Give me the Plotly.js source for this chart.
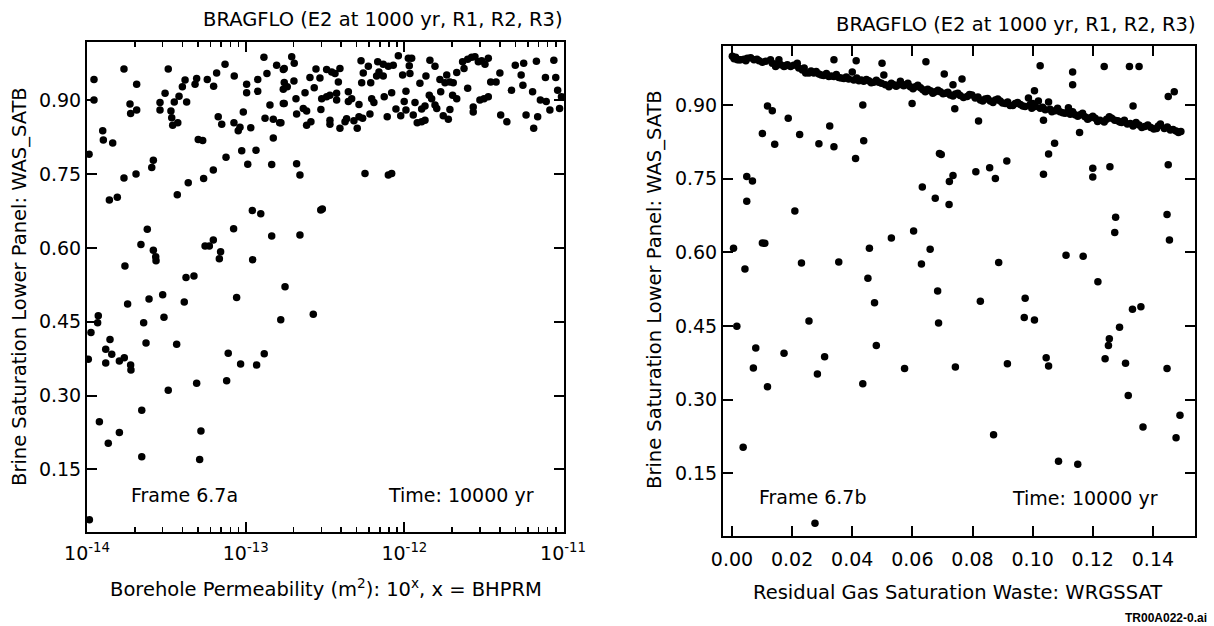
<!DOCTYPE html>
<html><head><meta charset="utf-8">
<script src="https://cdn.plot.ly/plotly-3.0.1.min.js"></script>
<style>html,body{margin:0;padding:0;background:#fff}</style>
</head><body>
<div id="chart" style="width:1214px;height:626px"></div>
<script>
// Frame 6.7a: BHPRM (log10 of borehole permeability) vs WAS_SATB
const bhprm = [
-13.956,-13.956,-13.767,-13.687,-13.729,-13.725,-13.687,-13.488,-13.508,-13.540,-13.540,-13.471,-13.466,-13.460,-13.428,-13.450,-13.420,-13.372,-13.399,-13.382,
-13.319,-13.309,-13.242,-13.202,-13.183,-13.130,-13.072,-13.173,-13.151,-13.074,-13.036,-13.047,-13.015,-12.968,-12.994,-12.994,-12.924,-12.924,-12.885,-12.866,
-12.805,-12.763,-12.847,-12.763,-12.763,-12.878,-12.826,-12.786,-12.826,-13.901,-13.897,-13.838,-13.987,-13.299,-13.271,-13.582,-13.592,-13.691,-13.767,-13.859,
-13.809,-13.431,-13.362,-13.265,-13.204,-13.124,-13.025,-12.935,-12.987,-12.836,-12.958,-12.905,-13.076,-12.836,-13.620,-13.660,-13.582,-13.567,-13.565,-13.256,
-13.229,-13.204,-13.158,-13.166,-12.956,-13.761,-13.376,-13.326,
-12.710,-12.694,-12.757,-12.757,-12.738,-12.696,-12.757,-12.778,-12.683,-12.679,-12.637,-12.616,-12.626,-12.616,-12.589,-12.568,-12.557,-12.595,-12.532,-12.526,
-12.521,-12.490,-12.469,-12.427,-12.427,-12.490,-12.458,-12.437,-12.406,-12.416,-12.469,-12.469,-12.406,-12.374,-12.364,-12.353,-12.353,-12.332,-12.318,-12.297,
-12.286,-12.263,-12.286,-12.273,-12.227,-12.259,-12.269,-12.212,-12.217,-12.206,-12.192,-12.175,-12.160,-12.133,-12.168,-12.133,-12.101,-12.070,-12.127,-12.108,
-12.080,-12.038,-12.053,-12.023,-12.011,-11.965,-11.990,-12.001,-11.990,-11.975,-11.954,-11.969,-11.944,-11.919,-11.891,-11.870,-11.933,-11.902,-11.891,-11.870,
-11.864,-11.839,-11.807,-11.843,-11.828,-11.807,-11.796,-11.771,-11.776,-11.744,-11.733,-11.713,-11.692,-11.755,-11.723,-11.713,-11.696,-11.670,-11.670,-11.633,
-11.624,-11.601,-11.576,-11.555,-11.534,-11.513,-11.492,-11.471,-11.601,-11.566,-11.566,-11.524,-11.498,-11.471,-11.456,
-12.679,-12.658,-12.248,-12.101,-12.080,-12.527,-12.517,-12.658,-12.752,
-11.422,-11.398,-11.393,-11.354,-11.325,-11.301,-11.264,-11.248,-11.253,-11.233,-11.185,-11.192,-11.168,-11.160,-11.143,-11.111,-11.106,-11.083,-11.058,-11.046,
-11.034,-11.022,-11.010,
-13.992,-13.975,-13.929,-13.933,-13.855,-13.882,-13.844,-13.882,-13.796,-13.765,-13.725,-13.723,-13.744,-13.609,-13.523,-13.387,-13.643,-13.515,-13.628,-13.435,
-13.057,-13.110,-13.032,-12.931,-12.883,-13.120,-13.309,-13.488,-13.922,-13.655,-13.796,-13.866,-13.655,-13.282,-13.290,-13.985,-12.779,-12.574
];
const satbLeft = [
0.942,0.900,0.963,0.932,0.892,0.873,0.880,0.963,0.914,0.895,0.880,0.878,0.864,0.849,0.854,0.896,0.908,0.896,0.927,0.941,
0.932,0.944,0.942,0.928,0.955,0.973,0.949,0.866,0.851,0.854,0.845,0.838,0.876,0.844,0.932,0.915,0.942,0.918,0.987,0.954,
0.971,0.962,0.890,0.922,0.893,0.863,0.861,0.854,0.823,0.838,0.819,0.813,0.790,0.820,0.818,0.778,0.763,0.750,0.742,0.697,
0.703,0.708,0.732,0.741,0.758,0.784,0.797,0.798,0.770,0.769,0.676,0.669,0.639,0.624,0.638,0.607,0.595,0.582,0.574,0.604,
0.604,0.616,0.592,0.578,0.576,0.563,0.540,0.543,
0.988,0.975,0.964,0.936,0.927,0.939,0.893,0.854,0.903,0.872,0.883,0.878,0.915,0.849,0.856,0.925,0.963,0.946,0.945,0.881,
0.903,0.907,0.910,0.914,0.900,0.962,0.957,0.954,0.964,0.937,0.859,0.851,0.843,0.856,0.862,0.917,0.897,0.903,0.858,0.843,
0.866,0.863,0.891,0.980,0.969,0.955,0.935,0.935,0.872,0.903,0.895,0.949,0.957,0.949,0.978,0.973,0.969,0.971,0.907,0.866,
0.915,0.990,0.882,0.868,0.951,0.954,0.918,0.897,0.880,0.985,0.985,0.970,0.870,0.854,0.856,0.859,0.895,0.934,0.882,0.888,
0.949,0.981,0.969,0.910,0.903,0.890,0.883,0.917,0.942,0.935,0.951,0.937,0.935,0.868,0.861,0.881,0.910,0.903,0.956,0.978,
0.964,0.983,0.987,0.988,0.978,0.980,0.973,0.985,0.924,0.886,0.876,0.900,0.903,0.907,0.937,
0.771,0.748,0.751,0.748,0.751,0.677,0.679,0.626,0.521,
0.937,0.955,0.870,0.856,0.920,0.971,0.951,0.975,0.930,0.870,0.843,0.917,0.979,0.866,0.900,0.946,0.897,0.880,0.981,0.946,
0.920,0.883,0.907,
0.374,0.428,0.462,0.448,0.414,0.394,0.384,0.366,0.370,0.377,0.362,0.352,0.486,0.496,0.505,0.490,0.448,0.459,0.407,0.404,
0.499,0.386,0.364,0.362,0.385,0.330,0.325,0.311,0.247,0.270,0.225,0.203,0.176,0.228,0.170,0.048,0.454,0.465
];
// Frame 6.7b: WRGSSAT vs WAS_SATB (dense upper band, then scattered points)
const wrgssat = [
0.0001,0.0007,0.0018,0.0029,0.0040,0.0051,0.0062,0.0073,0.0090,0.0101,0.0128,0.0134,0.0145,0.0156,0.0162,0.0173,0.0184,0.0195,0.0217,0.0222,
0.0234,0.0245,0.0256,0.0272,0.0289,0.0305,0.0322,0.0339,0.0355,0.0372,0.0388,0.0400,0.0405,0.0422,0.0438,0.0455,0.0471,0.0488,0.0505,0.0510,
0.0522,0.0538,0.0555,0.0571,0.0560,0.0577,0.0593,0.0610,0.0627,0.0643,0.0660,0.0676,0.0693,0.0710,0.0726,0.0743,0.0759,0.0782,0.0798,0.0809,
0.0826,0.0842,0.0859,0.0876,0.0892,0.0909,0.0925,0.0942,0.0959,0.0975,0.0986,0.0992,0.0997,0.1008,0.1019,0.1025,0.1042,0.1053,0.1064,0.1075,
0.1091,0.1108,0.1119,0.1125,0.1141,0.1158,0.1174,0.1191,0.1208,0.1224,0.1238,0.1255,0.1263,0.1283,0.1296,0.1315,0.1334,0.1354,0.1373,0.1393,
0.1412,0.1425,0.1438,0.1458,0.1477,0.1493,
0.0012,0.0024,0.0046,0.0083,0.0112,0.0150,0.0178,0.0205,0.0240,0.0263,0.0280,0.0297,0.0314,0.0330,0.0347,0.0363,0.0380,0.0415,0.0430,0.0447,
0.0463,0.0480,0.0497,0.0530,0.0546,0.0585,0.0602,0.0618,0.0635,0.0651,0.0668,0.0685,0.0702,0.0718,0.0735,0.0751,0.0770,0.0790,0.0818,0.0834,
0.0850,0.0868,0.0884,0.0900,0.0917,0.0934,0.0950,0.0967,0.1000,0.1033,0.1058,0.1083,0.1100,0.1133,0.1150,0.1166,0.1183,0.1200,0.1216,0.1246,
0.1273,0.1290,0.1305,0.1325,0.1344,0.1363,0.1383,0.1403,0.1418,0.1448,0.1467,0.1485,
0.0339,0.0413,0.0499,0.0118,0.0134,0.0187,0.0101,0.0142,0.0225,0.0325,0.0289,0.0339,0.0435,0.0438,0.0411,0.0049,0.0068,0.0049,0.0209,0.0005,
0.0101,0.0109,0.0043,0.0231,0.0355,0.0457,0.0452,0.0530,0.0645,0.0706,0.0735,0.0765,0.0599,0.0741,0.0820,0.1025,0.1006,0.1036,0.1133,0.1133,
0.1238,0.1156,0.1073,0.1053,0.1036,0.0690,0.0696,0.0914,0.0857,0.0876,0.0811,0.0735,0.0723,0.0633,0.0676,0.0722,0.1200,0.1200,0.1257,0.0604,
0.0659,0.0630,0.0887,0.0684,0.1111,0.1168,0.1217,0.0016,0.0037,0.0079,0.0071,0.0118,0.0173,0.0256,0.0284,0.0308,0.0276,0.0435,0.0474,0.0480,
0.0574,0.0687,0.0826,0.0975,0.0972,0.1006,0.0743,0.0916,0.1045,0.1053,0.0870,0.1086,0.1150,0.1241,0.1252,0.1255,0.1322,0.1354,0.1334,0.1451,
0.1471,0.1451,0.1276,0.1273,0.1447,0.1455,0.1332,0.1360,0.1289,0.1309,0.1318,0.1367,0.1447,0.1477,0.1490
];
const satbRight = [
0.999,0.994,0.992,0.992,0.993,0.995,0.996,0.992,0.990,0.987,0.992,0.985,0.978,0.992,0.982,0.978,0.982,0.978,0.985,0.975,
0.971,0.965,0.965,0.965,0.963,0.960,0.958,0.958,0.956,0.954,0.953,0.967,0.951,0.949,0.948,0.949,0.946,0.946,0.961,0.941,
0.937,0.941,0.941,0.939,0.948,0.941,0.937,0.937,0.935,0.927,0.929,0.927,0.927,0.924,0.920,0.922,0.919,0.917,0.920,0.914,
0.910,0.912,0.908,0.910,0.908,0.903,0.899,0.903,0.901,0.897,0.914,0.901,0.893,0.897,0.908,0.893,0.890,0.906,0.886,0.888,
0.886,0.883,0.894,0.881,0.880,0.880,0.876,0.874,0.873,0.869,0.865,0.876,0.873,0.868,0.864,0.861,0.857,0.859,0.856,0.854,
0.852,0.861,0.852,0.849,0.847,0.846,
0.997,0.992,0.990,0.993,0.989,0.984,0.980,0.981,0.975,0.969,0.968,0.961,0.964,0.959,0.962,0.955,0.957,0.955,0.951,0.952,
0.945,0.950,0.944,0.944,0.938,0.944,0.933,0.940,0.931,0.932,0.924,0.930,0.923,0.926,0.918,0.924,0.915,0.921,0.916,0.908,
0.913,0.905,0.912,0.904,0.906,0.899,0.905,0.898,0.903,0.895,0.891,0.893,0.884,0.886,0.877,0.883,0.871,0.877,0.866,0.871,
0.869,0.865,0.869,0.862,0.864,0.854,0.859,0.851,0.857,0.855,0.850,0.844,
0.992,0.990,0.985,0.898,0.888,0.873,0.842,0.820,0.840,0.857,0.821,0.815,0.900,0.827,0.791,0.754,0.745,0.704,0.684,0.608,
0.619,0.618,0.566,0.578,0.580,0.608,0.547,0.629,0.988,0.963,0.941,0.953,0.903,0.892,0.867,0.980,0.929,0.869,0.967,0.941,
0.978,0.844,0.822,0.800,0.759,0.801,0.799,0.786,0.772,0.750,0.764,0.756,0.744,0.733,0.710,0.697,0.771,0.753,0.774,0.643,
0.606,0.576,0.579,0.521,0.594,0.592,0.540,0.449,0.203,0.405,0.364,0.326,0.394,0.460,0.352,0.387,0.048,0.332,0.497,0.410,
0.363,0.456,0.500,0.506,0.467,0.462,0.366,0.373,0.385,0.368,0.228,0.174,0.168,0.383,0.410,0.424,0.978,0.978,0.898,0.917,
0.927,0.778,0.671,0.640,0.677,0.625,0.484,0.489,0.447,0.374,0.308,0.244,0.363,0.222,0.268
];
const satTicks = [0.15, 0.30, 0.45, 0.60, 0.75, 0.90];
const decadeExps = [-14, -13, -12, -11];
const minorDigits = [2, 3, 4, 5, 6, 7, 8, 9];
const titleText = 'BRAGFLO (E2 at 1000 yr, R1, R2, R3)';
const yTitle = 'Brine Saturation Lower Panel: WAS_SATB';

const W = 1214, H = 626;
const fx = p => p / W, fy = p => 1 - p / H;
const FONT = 'DejaVu Sans';
const mk = {color: '#000', size: 7.5};

const decadeVals = decadeExps.map(e => Math.pow(10, e));
const decadeText = decadeExps.map(e => '10<sup>' + e + '</sup>');
const minorVals = [];
decadeExps.slice(0, -1).forEach(e => minorDigits.forEach(d => minorVals.push(d * Math.pow(10, e))));

const traces = [
  {type: 'scatter', mode: 'markers', x: bhprm.map(e => Math.pow(10, e)), y: satbLeft,
   xaxis: 'x', yaxis: 'y', marker: mk, hoverinfo: 'skip'},
  {type: 'scatter', mode: 'markers', x: wrgssat, y: satbRight,
   xaxis: 'x2', yaxis: 'y2', marker: mk, hoverinfo: 'skip'}
];

const axBase = {showline: true, linewidth: 2, linecolor: '#000', mirror: 'ticks',
  ticks: 'inside', ticklen: 10, tickwidth: 2, tickcolor: '#000', showgrid: false, zeroline: false,
  tickfont: {family: FONT, size: 19, color: '#000'}, automargin: false, fixedrange: true};

const layout = {
  width: W, height: H, margin: {l: 0, r: 0, t: 0, b: 0},
  paper_bgcolor: '#fff', plot_bgcolor: '#fff', showlegend: false,
  font: {family: FONT, size: 19, color: '#000'},
  xaxis: Object.assign({}, axBase, {domain: [fx(87), fx(564)], anchor: 'y', type: 'log',
    range: [-14, -10.994], tickmode: 'array', tickvals: decadeVals, ticktext: decadeText,
    ticklabelstandoff: 3,
    minor: {tickmode: 'array', tickvals: minorVals, ticks: 'inside', ticklen: 5, tickwidth: 1.5,
            tickcolor: '#000', showgrid: false}}),
  yaxis: Object.assign({}, axBase, {domain: [fy(532), fy(42)], anchor: 'x',
    range: [0.023, 1.018], tickvals: satTicks, tickformat: '.2f'}),
  xaxis2: Object.assign({}, axBase, {domain: [fx(723), fx(1195)], anchor: 'y2',
    range: [-0.003, 0.154], tick0: 0, dtick: 0.02, tickformat: '.2f', ticklabelstandoff: 5}),
  yaxis2: Object.assign({}, axBase, {domain: [fy(536), fy(46)], anchor: 'x2',
    range: [0.022, 1.02], tickvals: satTicks, tickformat: '.2f'}),
  annotations: [
    {text: titleText, x: fx(565), y: fy(20), xanchor: 'right', yanchor: 'middle', font: {size: 19.5}},
    {text: titleText, x: fx(1198), y: fy(24), xanchor: 'right', yanchor: 'middle', font: {size: 19.5}},
    {text: yTitle, x: fx(19), y: fy(287), textangle: -90, xanchor: 'center', yanchor: 'middle', font: {size: 19.5}},
    {text: yTitle, x: fx(654), y: fy(290), textangle: -90, xanchor: 'center', yanchor: 'middle', font: {size: 19.5}},
    {text: 'Borehole Permeability (m<sup>2</sup>): 10<sup>x</sup>, x = BHPRM', x: fx(326), y: fy(588), xanchor: 'center', yanchor: 'middle', font: {size: 19.5}},
    {text: 'Residual Gas Saturation Waste: WRGSSAT', x: fx(957), y: fy(592), xanchor: 'center', yanchor: 'middle', font: {size: 19.5}},
    {text: 'Frame 6.7a', x: fx(129), y: fy(495), xanchor: 'left', yanchor: 'middle'},
    {text: 'Time: 10000 yr', x: fx(536), y: fy(495), xanchor: 'right', yanchor: 'middle'},
    {text: 'Frame 6.7b', x: fx(757), y: fy(497), xanchor: 'left', yanchor: 'middle'},
    {text: 'Time: 10000 yr', x: fx(1160), y: fy(498), xanchor: 'right', yanchor: 'middle'},
    {text: '<b>TR00A022-0.ai</b>', x: fx(1209), y: fy(618), xanchor: 'right', yanchor: 'middle',
     font: {family: 'Liberation Sans', size: 12}}
  ].map(a => Object.assign({xref: 'paper', yref: 'paper', showarrow: false}, a,
     {font: Object.assign({family: FONT, size: 19, color: '#000'}, a.font || {})}))
};

Plotly.newPlot('chart', traces, layout, {staticPlot: true, displayModeBar: false});
</script>
</body></html>
